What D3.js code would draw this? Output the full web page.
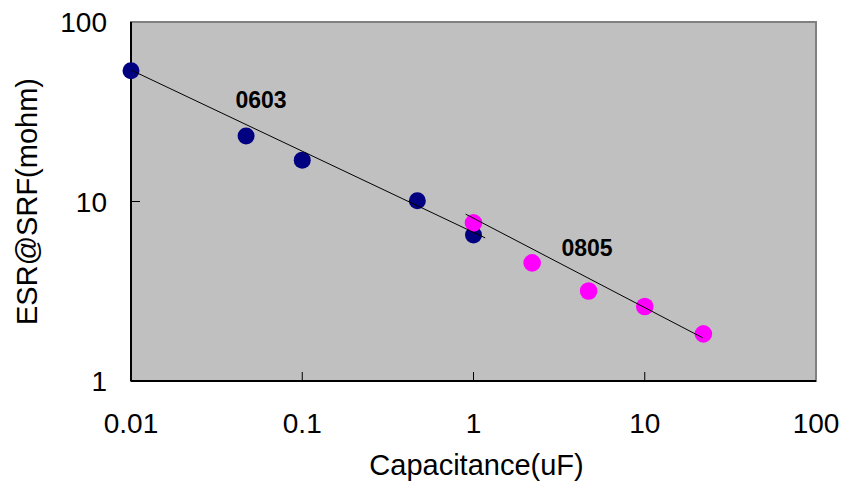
<!DOCTYPE html>
<meta charset="utf-8">
<style>
body { margin: 0; background: #fff; }
* { font-family: "Liberation Sans", Arial, Helvetica, sans-serif; }
</style>
<body>
<script src="https://cdn.jsdelivr.net/npm/d3@7"></script>
<script>

// 0603 parts
var cap0603 = [0.01, 0.047, 0.1, 0.47, 1.0];
var esr0603 = [53.5, 23.2, 17.0, 10.1, 6.5];
// 0805 parts
var cap0805 = [1.0, 2.2, 4.7, 10, 22];
var esr0805 = [7.6, 4.55, 3.17, 2.6, 1.83];

// trend line end points (capacitance, esr)
var trend0603 = [[0.01, 54], [1.17, 6.27]];
var trend0805 = [[0.9, 8.5], [21.8, 1.74]];

var xTicks = [0.01, 0.1, 1, 10, 100];
var yTicks = [1, 10, 100];

var margin = {top: 22, right: 28, bottom: 114, left: 131},
    width = 844 - margin.left - margin.right,
    height = 495 - margin.top - margin.bottom;

var x = d3.scaleLog().domain([0.01, 100]).range([0, width]);
var y = d3.scaleLog().domain([1, 100]).range([height, 0]);

var svg = d3.select("body").append("svg")
    .attr("width", 844)
    .attr("height", 495)
  .append("g")
    .attr("transform", "translate(" + margin.left + "," + margin.top + ")");

// plot area
svg.append("rect")
    .attr("width", width)
    .attr("height", height)
    .attr("fill", "#c0c0c0")
    .attr("stroke", "#808080")
    .attr("stroke-width", 2);

// inner ticks
svg.selectAll(".xtick")
    .data(xTicks.slice(1, -1))
  .enter().append("line")
    .attr("x1", function(d) { return x(d); })
    .attr("x2", function(d) { return x(d); })
    .attr("y1", height)
    .attr("y2", height - 9)
    .attr("stroke", "#000");

svg.selectAll(".ytick")
    .data(yTicks.slice(1, -1))
  .enter().append("line")
    .attr("x1", 0)
    .attr("x2", 9)
    .attr("y1", function(d) { return y(d); })
    .attr("y2", function(d) { return y(d); })
    .attr("stroke", "#000");

// left & bottom axis lines
svg.append("line").attr("x1", 0).attr("x2", 0).attr("y1", 0).attr("y2", height)
    .attr("stroke", "#000").attr("stroke-width", 2);
svg.append("line").attr("x1", 0).attr("x2", width).attr("y1", height).attr("y2", height)
    .attr("stroke", "#000").attr("stroke-width", 2);

// tick labels
svg.selectAll(".xlab")
    .data(xTicks)
  .enter().append("text")
    .attr("x", function(d) { return x(d); })
    .attr("y", height + 52)
    .attr("text-anchor", "middle")
    .attr("font-size", "28px")
    .text(function(d) { return String(d); });

svg.selectAll(".ylab")
    .data(yTicks)
  .enter().append("text")
    .attr("x", -24)
    .attr("y", function(d) { return y(d) + 10; })
    .attr("text-anchor", "end")
    .attr("font-size", "28px")
    .text(function(d) { return String(d); });

// axis titles
svg.append("text")
    .attr("text-anchor", "middle")
    .attr("transform", "translate(" + (x(1) + 3) + "," + (height + 94) + ")")
    .attr("font-size", "29px")
    .text("Capacitance(uF)");

svg.append("text")
    .attr("text-anchor", "middle")
    .attr("transform", "translate(" + -(margin.left - 37) + "," + (height / 2) + ")rotate(-90)")
    .attr("font-size", "29px")
    .text("ESR@SRF(mohm)");

// points
svg.selectAll(".p0603")
    .data(d3.zip(cap0603, esr0603))
  .enter().append("circle")
    .attr("cx", function(d) { return x(d[0]); })
    .attr("cy", function(d) { return y(d[1]); })
    .attr("r", 8.5)
    .attr("fill", "#000080");

svg.selectAll(".p0805")
    .data(d3.zip(cap0805, esr0805))
  .enter().append("circle")
    .attr("cx", function(d) { return x(d[0]); })
    .attr("cy", function(d) { return y(d[1]); })
    .attr("r", 8.8)
    .attr("fill", "#ff00ff");

// trend lines
var trendLine = d3.line()
    .x(function(d) { return x(d[0]); })
    .y(function(d) { return y(d[1]); });

[trend0603, trend0805].forEach(function(t) {
  svg.append("path")
      .attr("d", trendLine(t))
      .attr("fill", "none")
      .attr("stroke", "#000")
      .attr("stroke-width", 1);
});

// series labels
svg.append("text")
    .attr("x", 261 - margin.left)
    .attr("y", 108 - margin.top)
    .attr("text-anchor", "middle")
    .attr("font-size", "23px")
    .attr("font-weight", "bold")
    .text("0603");

svg.append("text")
    .attr("x", 587 - margin.left)
    .attr("y", 256 - margin.top)
    .attr("text-anchor", "middle")
    .attr("font-size", "23px")
    .attr("font-weight", "bold")
    .text("0805");

</script>
</body>
</html>
